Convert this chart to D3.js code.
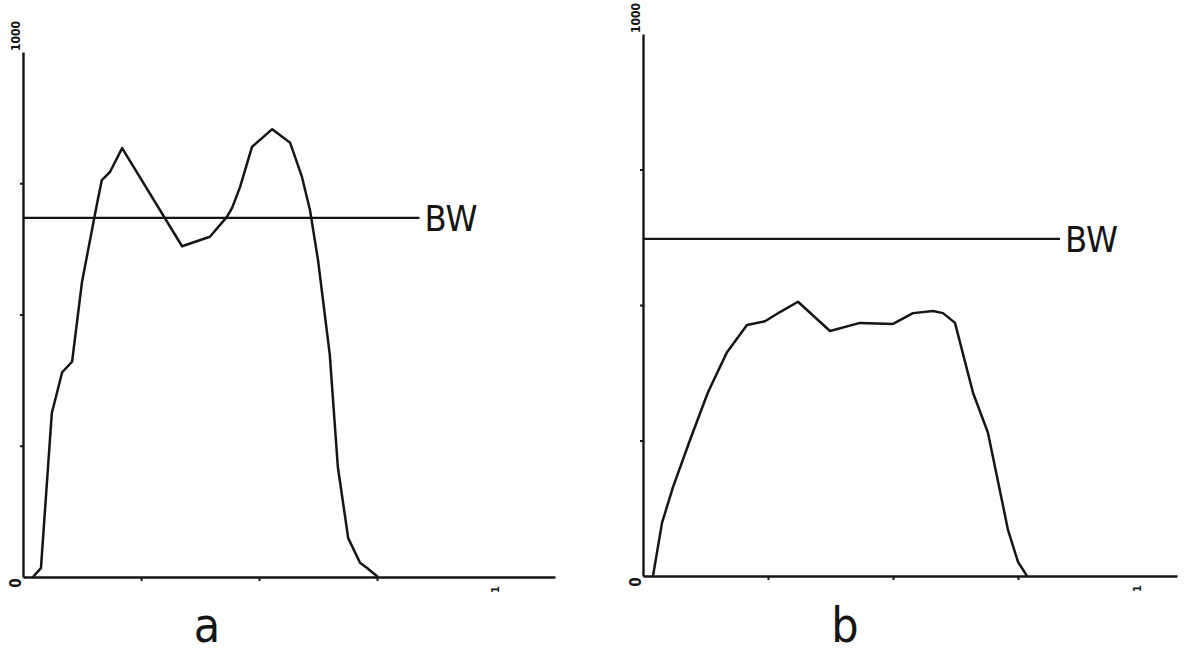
<!DOCTYPE html>
<html>
<head>
<meta charset="utf-8">
<script src="https://cdn.jsdelivr.net/npm/d3@7"></script>
<style>
  body { margin: 0; background: #fff; }
  svg { display: block; }
  .ink { stroke: #151515; fill: none; }
  text { fill: #151515; font-family: "DejaVu Sans Condensed", "DejaVu Sans", sans-serif; }
</style>
</head>
<body>
<div id="chart"></div>
<script>
// panel a: two-peak profile, panel b: flat profile (x 0..1, y 0..1000)
const xA = [0.021, 0.038, 0.061, 0.083, 0.104, 0.125, 0.157, 0.167, 0.184, 0.210, 0.337, 0.396, 0.432, 0.443, 0.460, 0.485, 0.528, 0.566, 0.591, 0.608, 0.625, 0.650, 0.667, 0.689, 0.714, 0.729, 0.752];
const yA = [0, 17, 312, 390, 410, 562, 712, 756, 771, 817, 630, 648, 686, 703, 743, 819, 853, 827, 762, 699, 604, 423, 210, 74, 27, 17, 0];
const xB = [0.020, 0.038, 0.060, 0.094, 0.130, 0.168, 0.208, 0.244, 0.274, 0.310, 0.374, 0.434, 0.500, 0.540, 0.580, 0.600, 0.624, 0.660, 0.690, 0.730, 0.750, 0.768];
const yB = [0, 98, 164, 251, 339, 413, 463, 470, 487, 506, 452, 467, 465, 485, 489, 485, 467, 338, 264, 85, 26, 0];
const bwLevel = [684, 622];      // BW threshold per panel
const bwEnd = [0.84, 0.834];     // where the BW line stops (x units)
const panelNames = ["a", "b"];
const yTicks = [250, 500, 750];
const xTicks = [0.25, 0.5, 0.75];

const W = 1187, H = 656;
const svg = d3.select("#chart").append("svg").attr("width", W).attr("height", H);

const panels = [
  {xs: xA, ys: yA, x0: 23, x1: 495, xEnd: 555, yBase: 577, yTop: 52},
  {xs: xB, ys: yB, x0: 643, x1: 1143, xEnd: 1177, yBase: 576, yTop: 34}
];

panels.forEach((p, i) => {
  const x = d3.scaleLinear().domain([0, 1]).range([p.x0, p.x1]);
  const y = d3.scaleLinear().domain([0, 1000]).range([p.yBase, p.yTop]);
  const g = svg.append("g");

  // x axis, runs a bit past 1
  g.append("g")
    .attr("transform", `translate(0,${p.yBase})`)
    .call(d3.axisBottom(x.copy().domain([0, x.invert(p.xEnd)]).range([p.x0, p.xEnd]))
      .tickValues(xTicks).tickSize(4).tickSizeOuter(0).tickFormat(""))
    .call(a => a.select(".domain").attr("stroke", "#151515").attr("stroke-width", 2.6))
    .call(a => a.selectAll(".tick line").attr("stroke", "#151515").attr("stroke-width", 2));

  // y axis
  g.append("g")
    .attr("transform", `translate(${p.x0},0)`)
    .call(d3.axisLeft(y).tickValues(yTicks).tickSize(3).tickSizeOuter(0).tickFormat(""))
    .call(a => a.select(".domain").attr("stroke", "#151515").attr("stroke-width", 2.4))
    .call(a => a.selectAll(".tick line").attr("stroke", "#151515").attr("stroke-width", 2));

  // small rotated plotter labels
  g.append("text")
    .attr("transform", `translate(${p.x0 - 3},${y(1000) - 1}) rotate(-90)`)
    .attr("font-size", 12).attr("font-weight", "bold")
    .text("1000");
  g.append("text")
    .attr("transform", `translate(${p.x0 - 2},${p.yBase + 6}) rotate(-90)`)
    .attr("text-anchor", "middle")
    .attr("font-size", 15).attr("font-weight", "bold")
    .text("0");
  g.append("text")
    .attr("transform", `translate(${x(1) + 4 - i * 6},${p.yBase + 16}) rotate(-90)`)
    .attr("font-size", 11).attr("font-weight", "bold")
    .text("1");

  // BW line and label
  g.append("line").attr("class", "ink")
    .attr("x1", x(0)).attr("x2", x(bwEnd[i]))
    .attr("y1", y(bwLevel[i])).attr("y2", y(bwLevel[i]))
    .attr("stroke-width", 2.2);
  g.append("text")
    .attr("x", x(bwEnd[i]) + 5).attr("y", y(bwLevel[i]) + 13)
    .attr("font-size", 36)
    .text("BW");

  // profile
  const pts = p.xs.map((v, k) => [v, p.ys[k]]);
  g.append("path").datum(pts).attr("class", "ink")
    .attr("stroke-width", 2.5)
    .attr("stroke-linejoin", "round")
    .attr("d", d3.line().x(d => x(d[0])).y(d => y(d[1])));

  // panel letter
  g.append("text")
    .attr("x", i == 0 ? 207 : 845).attr("y", 642)
    .attr("text-anchor", "middle")
    .attr("font-size", 48)
    .text(panelNames[i]);
});
</script>
</body>
</html>
